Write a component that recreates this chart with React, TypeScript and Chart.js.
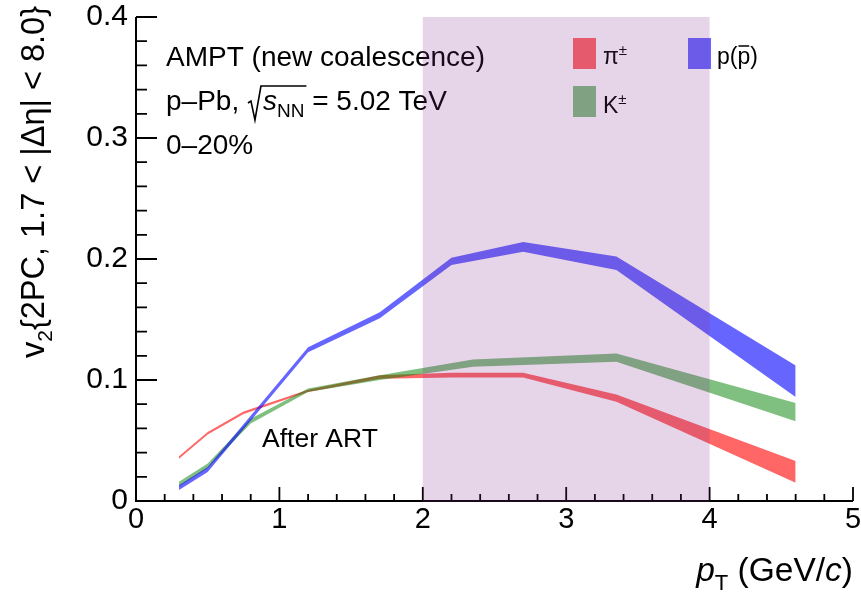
import React, { useEffect, useRef } from "react";
import { Chart, registerables } from "chart.js";

Chart.register(...registerables);

// ---- data ----
const pionPt = [0.3, 0.5, 0.75, 1.2, 1.7, 2.2, 2.7, 3.35, 4.6];
const pionUpper = [0.037, 0.057, 0.074, 0.092, 0.104, 0.106, 0.106, 0.088, 0.033];
const pionLower = [0.035, 0.055, 0.072, 0.09, 0.101, 0.102, 0.102, 0.082, 0.015];

const kaonPt = [0.3, 0.5, 0.8, 1.2, 1.7, 2.35, 3.35, 4.6];
const kaonUpper = [0.016, 0.031, 0.068, 0.093, 0.104, 0.117, 0.122, 0.081];
const kaonLower = [0.012, 0.027, 0.064, 0.09, 0.1, 0.111, 0.115, 0.066];

const protonPt = [0.3, 0.5, 1.2, 1.7, 2.2, 2.7, 3.35, 4.6];
const protonUpper = [0.013, 0.028, 0.127, 0.156, 0.201, 0.214, 0.202, 0.112];
const protonLower = [0.009, 0.024, 0.123, 0.151, 0.195, 0.206, 0.191, 0.086];

const xRange = [0, 5];
const yRange = [0, 0.4];
const xStep = 1;
const yStep = 0.1;
const shadedRange = [2, 4];

const seriesNames = ["π", "K", "p"];
const seriesColors = ["rgba(255,0,0,0.6)", "rgba(0,128,0,0.5)", "rgba(0,0,255,0.6)"];

const FONT = "'Liberation Sans', Arial, Helvetica, sans-serif";

type Seg = { t: string; f: string; dy?: number };

function segWidth(ctx: CanvasRenderingContext2D, segs: Seg[]) {
  let w = 0;
  for (const s of segs) {
    ctx.font = s.f;
    w += ctx.measureText(s.t).width;
  }
  return w;
}

function drawSegs(ctx: CanvasRenderingContext2D, segs: Seg[], x: number, y: number) {
  for (const s of segs) {
    ctx.font = s.f;
    ctx.fillText(s.t, x, y + (s.dy || 0));
    x += ctx.measureText(s.t).width;
  }
  return x;
}

const pts = (xs: number[], ys: number[]) => xs.map((x, i) => ({ x, y: ys[i] }));

const overlayPlugin = {
  id: "rootStyle",
  afterDraw(chart: any) {
    const ctx: CanvasRenderingContext2D = chart.ctx;
    const xs = chart.scales.x;
    const ys = chart.scales.y;
    const a = chart.chartArea;
    ctx.save();
    ctx.fillStyle = "#000";
    ctx.strokeStyle = "#000";
    ctx.textBaseline = "alphabetic";
    ctx.textAlign = "left";

    // axes
    ctx.lineWidth = 2;
    ctx.beginPath();
    ctx.moveTo(a.left, a.top);
    ctx.lineTo(a.left, a.bottom);
    ctx.lineTo(a.right, a.bottom);
    ctx.stroke();

    // inward ticks
    ctx.lineWidth = 1.8;
    ctx.beginPath();
    for (let i = 0; i <= 25; i++) {
      const px = xs.getPixelForValue(i / 5);
      const len = i % 5 === 0 ? 14 : 7;
      ctx.moveTo(px, a.bottom);
      ctx.lineTo(px, a.bottom - len);
    }
    for (let i = 0; i <= 20; i++) {
      const py = ys.getPixelForValue(i * 0.02);
      const len = i % 5 === 0 ? 21 : 11;
      ctx.moveTo(a.left, py);
      ctx.lineTo(a.left + len, py);
    }
    ctx.stroke();

    // annotations
    const f28 = `28px ${FONT}`;
    ctx.font = f28;
    ctx.fillText("AMPT (new coalescence)", 166, 66);
    let x = drawSegs(ctx, [{ t: "p–Pb, ", f: f28 }], 166, 110);
    // radical
    const rx = x + 1;
    const sSegs: Seg[] = [
      { t: "s", f: `italic 28px ${FONT}` },
      { t: "NN", f: `19px ${FONT}`, dy: 7 },
    ];
    const sw = segWidth(ctx, sSegs);
    ctx.lineWidth = 1.6;
    ctx.beginPath();
    ctx.moveTo(rx, 103);
    ctx.lineTo(rx + 3, 101);
    ctx.lineTo(rx + 7, 120);
    ctx.lineTo(rx + 13, 86);
    ctx.lineTo(rx + 17 + sw, 86);
    ctx.stroke();
    x = drawSegs(ctx, sSegs, rx + 15, 110);
    drawSegs(ctx, [{ t: " = 5.02 TeV", f: f28 }], x, 110);
    ctx.font = f28;
    ctx.fillText("0–20%", 166, 154);
    ctx.font = `26.5px ${FONT}`;
    ctx.fillText("After ART", 262, 447);

    // legend
    const lf = `23px ${FONT}`;
    const sup = `15px ${FONT}`;
    ctx.fillStyle = seriesColors[0];
    ctx.fillRect(573, 38, 23, 31);
    ctx.fillStyle = seriesColors[1];
    ctx.fillRect(573, 86, 23, 31);
    ctx.fillStyle = seriesColors[2];
    ctx.fillRect(688, 38, 23, 31);
    ctx.fillStyle = "#000";
    drawSegs(ctx, [{ t: seriesNames[0], f: lf }, { t: "±", f: sup, dy: -9 }], 603, 64);
    drawSegs(ctx, [{ t: seriesNames[1], f: lf }, { t: "±", f: sup, dy: -9 }], 603, 113);
    let lx = drawSegs(ctx, [{ t: seriesNames[2] + "(", f: lf }], 717, 64);
    ctx.font = lf;
    const pw = ctx.measureText("p").width;
    ctx.fillText("p", lx, 64);
    ctx.lineWidth = 1.5;
    ctx.beginPath();
    ctx.moveTo(lx + 1, 46);
    ctx.lineTo(lx + pw - 1, 46);
    ctx.stroke();
    ctx.fillText(")", lx + pw, 64);

    // y title (rotated)
    const tf = `32.5px ${FONT}`;
    const ySegs: Seg[] = [
      { t: "v", f: tf },
      { t: "2", f: `21px ${FONT}`, dy: 8 },
      { t: "{2PC, 1.7 < |Δη| < 8.0}", f: tf },
    ];
    const yw = segWidth(ctx, ySegs);
    ctx.save();
    ctx.translate(44, 6 + yw);
    ctx.rotate(-Math.PI / 2);
    drawSegs(ctx, ySegs, 0, 0);
    ctx.restore();

    // x title (right aligned)
    const xf = `33.5px ${FONT}`;
    const xSegs: Seg[] = [
      { t: "p", f: `italic 33.5px ${FONT}` },
      { t: "T", f: `22px ${FONT}`, dy: 9 },
      { t: " (GeV/", f: xf },
      { t: "c", f: `italic 33.5px ${FONT}` },
      { t: ")", f: xf },
    ];
    const xw = segWidth(ctx, xSegs);
    drawSegs(ctx, xSegs, 853 - xw, 581);

    // shaded pT window overlay (drawn on top)
    const x0 = xs.getPixelForValue(shadedRange[0]);
    const x1 = xs.getPixelForValue(shadedRange[1]);
    ctx.fillStyle = "rgba(130,40,140,0.2)";
    ctx.fillRect(x0, a.top, x1 - x0, a.bottom - a.top + 1);
    ctx.restore();
  },
};

export default function App() {
  const ref = useRef<HTMLCanvasElement | null>(null);
  useEffect(() => {
    if (!ref.current) return;
    const band = (label: string, xsArr: number[], up: number[], lo: number[], color: string) => [
      {
        label: label + " upper",
        data: pts(xsArr, up),
        borderWidth: 0,
        pointRadius: 0,
        backgroundColor: color,
        borderColor: color,
        fill: "+1",
        tension: 0,
      },
      {
        label: label + " lower",
        data: pts(xsArr, lo),
        borderWidth: 0,
        pointRadius: 0,
        backgroundColor: color,
        borderColor: color,
        fill: false,
        tension: 0,
      },
    ];
    const chart = new Chart(ref.current, {
      type: "line",
      data: {
        datasets: [
          ...band("p", protonPt, protonUpper, protonLower, seriesColors[2]),
          ...band("K", kaonPt, kaonUpper, kaonLower, seriesColors[1]),
          ...band("pi", pionPt, pionUpper, pionLower, seriesColors[0]),
        ] as any,
      },
      options: {
        animation: false,
        responsive: false,
        layout: { padding: { left: 0, top: 17, right: 8, bottom: 0 } },
        plugins: { legend: { display: false }, tooltip: { enabled: false } },
        scales: {
          x: {
            type: "linear",
            min: xRange[0],
            max: xRange[1],
            grid: { display: false, drawTicks: false },
            border: { display: false },
            ticks: {
              stepSize: xStep,
              color: "#000",
              padding: 2,
              font: { family: FONT, size: 29 },
              maxRotation: 0,
            },
            afterFit: (s: any) => {
              s.height = 93;
              s.paddingLeft = 0;
              s.paddingRight = 0;
            },
          },
          y: {
            type: "linear",
            min: yRange[0],
            max: yRange[1],
            grid: { display: false, drawTicks: false },
            border: { display: false },
            ticks: {
              stepSize: yStep,
              color: "#000",
              padding: 8,
              font: { family: FONT, size: 30 },
            },
            afterFit: (s: any) => {
              s.width = 136;
              s.paddingTop = 0;
              s.paddingBottom = 0;
            },
          },
        },
      },
      plugins: [overlayPlugin],
    });
    return () => chart.destroy();
  }, []);
  return (
    <div style={{ position: "absolute", left: 0, top: 0, width: 861, height: 594, background: "#fff" }}>
      <canvas ref={ref} width={861} height={594} style={{ display: "block" }} />
    </div>
  );
}
